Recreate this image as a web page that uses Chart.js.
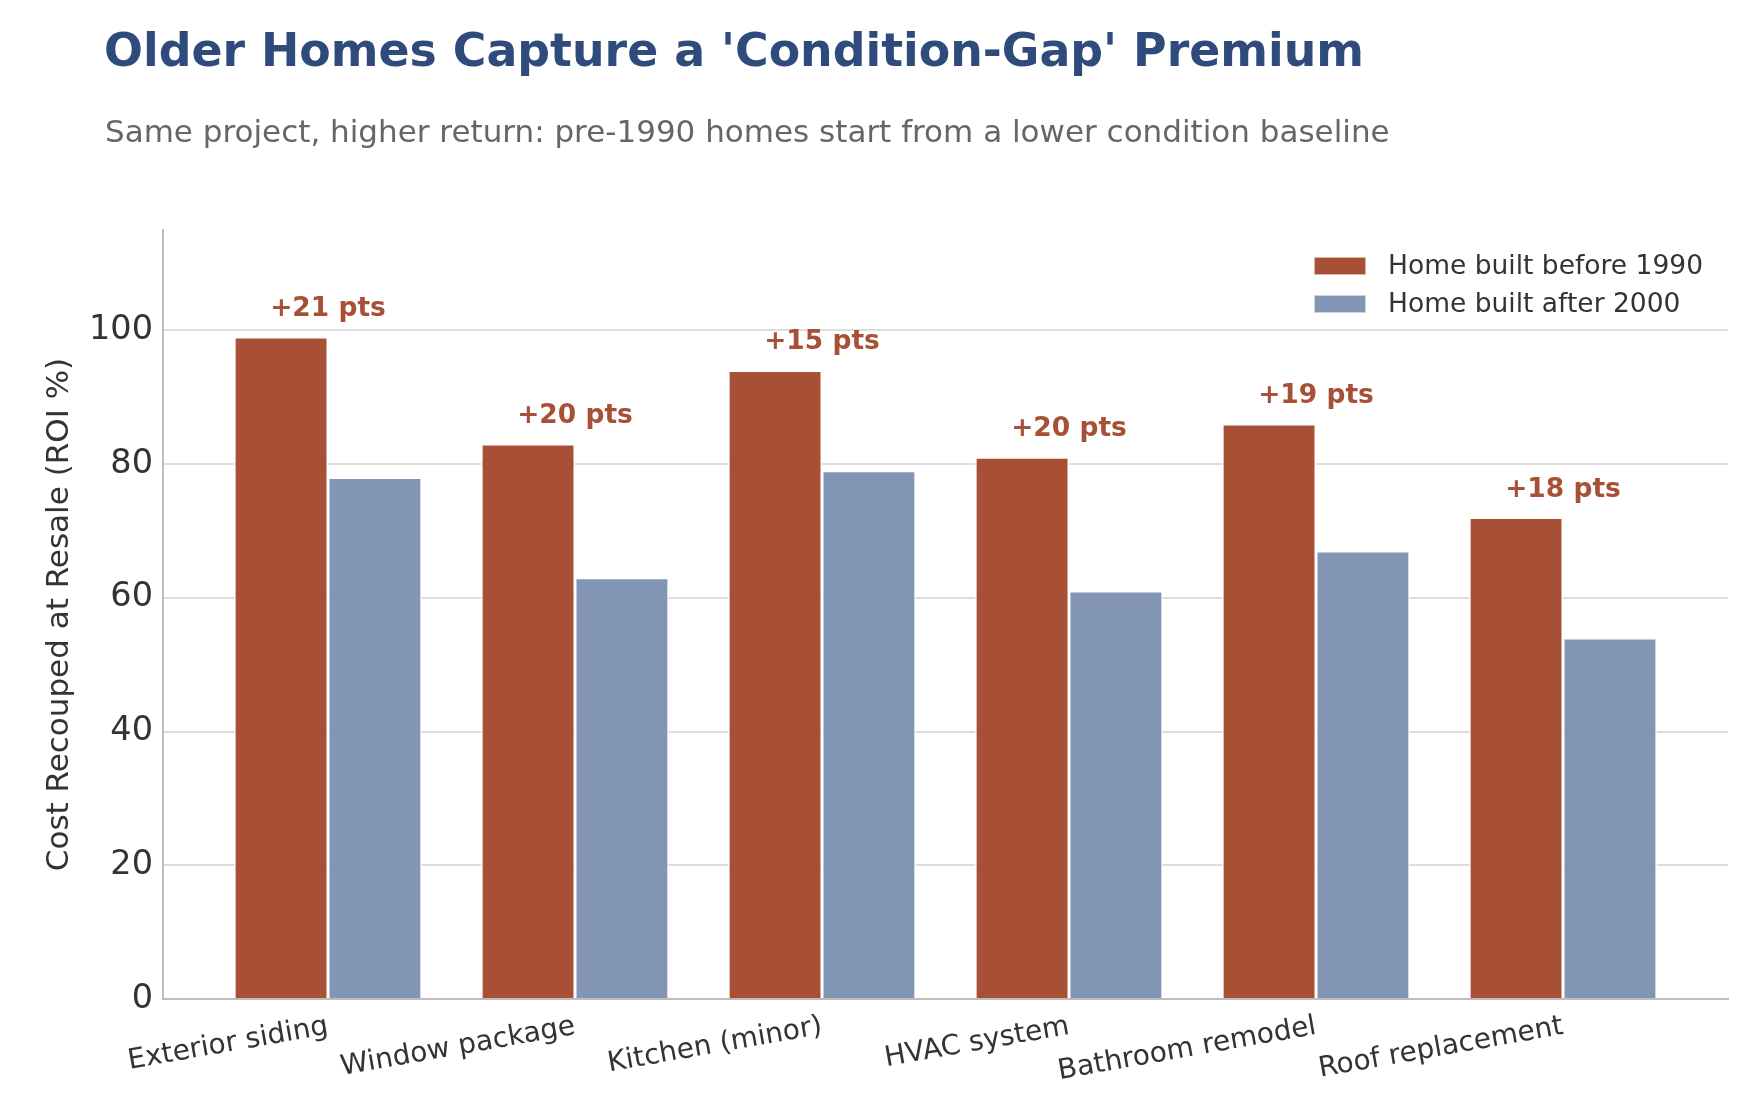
<!DOCTYPE html>
<html>
<head>
<meta charset="utf-8">
<script src="https://cdn.jsdelivr.net/npm/chart.js@4.4.1/dist/chart.umd.min.js"></script>
<style>
  html, body { margin: 0; padding: 0; background: #ffffff; }
  #wrap { position: relative; width: 1756px; height: 1114px; overflow: hidden; }
  #chart { position: absolute; left: 0; top: 0; }
  .title { position: absolute; left: 104px; top: 28px; margin: 0; white-space: nowrap;
           font-family: "DejaVu Sans", sans-serif; font-weight: bold; font-size: 45.8px; line-height: 1; color: #2F4B7C; }
  .subtitle { position: absolute; left: 105px; top: 116px; margin: 0; white-space: nowrap;
           font-family: "DejaVu Sans", sans-serif; font-weight: normal; font-size: 31px; line-height: 1; color: #666666; }
</style>
</head>
<body>
<div id="wrap">
  <canvas id="chart" width="1756" height="1114"></canvas>
  <h1 class="title" id="title"></h1>
  <p class="subtitle" id="subtitle"></p>
</div>
<script>
// ---- Data ----
const titleText = "Older Homes Capture a 'Condition-Gap' Premium";
const subtitleText = "Same project, higher return: pre-1990 homes start from a lower condition baseline";
const categories = ["Exterior siding", "Window package", "Kitchen (minor)", "HVAC system", "Bathroom remodel", "Roof replacement"];
const seriesNames = ["Home built before 1990", "Home built after 2000"];
const before1990 = [99, 83, 94, 81, 86, 72];
const after2000 = [78, 63, 79, 61, 67, 54];
const yTicks = [0, 20, 40, 60, 80, 100];
const yAxisTitle = "Cost Recouped at Resale (ROI %)";

// ---- Styles ----
const ORANGE = '#A85036';
const BLUE = '#8295B5';
const FONT = '"DejaVu Sans", sans-serif';

document.getElementById('title').textContent = titleText;
document.getElementById('subtitle').textContent = subtitleText;

const gapLabels = {
  id: 'gapLabels',
  afterDatasetsDraw(chart) {
    const ctx = chart.ctx;
    const m0 = chart.getDatasetMeta(0).data;
    const m1 = chart.getDatasetMeta(1).data;
    const yScale = chart.scales.y;
    ctx.save();
    ctx.font = 'bold 26.5px ' + FONT;
    ctx.fillStyle = ORANGE;
    ctx.textAlign = 'center';
    ctx.textBaseline = 'alphabetic';
    categories.forEach((c, i) => {
      const a = before1990[i], b = after2000[i];
      const x = (m0[i].x + m1[i].x) / 2;
      const y = yScale.getPixelForValue(Math.max(a, b)) - 21;
      ctx.fillText('+' + (a - b) + ' pts', x, y);
    });
    ctx.restore();
  }
};

const innerLegend = {
  id: 'innerLegend',
  afterDraw(chart) {
    const ctx = chart.ctx;
    const area = chart.chartArea;
    const px = area.right - 414;
    const rows = [area.top + 36, area.top + 74];
    ctx.save();
    chart.data.datasets.forEach((ds, i) => {
      const cy = rows[i];
      ctx.fillStyle = ds.backgroundColor;
      ctx.fillRect(px, cy - 9, 52, 18);
      ctx.strokeStyle = 'rgba(255,255,255,0.6)';
      ctx.lineWidth = 1;
      ctx.strokeRect(px + 0.5, cy - 8.5, 51, 17);
      ctx.fillStyle = '#333333';
      ctx.font = '26.5px ' + FONT;
      ctx.textAlign = 'left';
      ctx.textBaseline = 'middle';
      ctx.fillText(ds.label, px + 74, cy + 1);
    });
    ctx.restore();
  }
};

new Chart(document.getElementById('chart'), {
  type: 'bar',
  data: {
    datasets: [
      {
        label: seriesNames[0],
        data: before1990.map((v, i) => ({ x: i, y: v })),
        backgroundColor: ORANGE,
        borderColor: '#ffffff',
        borderWidth: 1.5,
        categoryPercentage: 0.76,
        barPercentage: 1.0
      },
      {
        label: seriesNames[1],
        data: after2000.map((v, i) => ({ x: i, y: v })),
        backgroundColor: BLUE,
        borderColor: '#ffffff',
        borderWidth: 1.5,
        categoryPercentage: 0.76,
        barPercentage: 1.0
      }
    ]
  },
  options: {
    responsive: false,
    animation: false,
    devicePixelRatio: 1,
    layout: { padding: { top: 230, right: 28, bottom: 0, left: 0 } },
    plugins: {
      legend: { display: false },
      tooltip: { enabled: false },
      title: { display: false }
    },
    scales: {
      x: {
        type: 'linear',
        min: -0.668,
        max: 5.668,
        offset: false,
        grid: { display: false, offset: false },
        border: { display: true, color: '#bdbdbd', width: 2 },
        afterBuildTicks(scale) { scale.ticks = categories.map((c, i) => ({ value: i })); },
        afterFit(scale) { scale.height = 115; },
        ticks: {
          autoSkip: false,
          minRotation: 10,
          maxRotation: 10,
          padding: 3,
          color: '#333333',
          font: { family: FONT, size: 28 },
          callback: (v) => categories[v]
        }
      },
      y: {
        type: 'linear',
        min: 0,
        max: 115,
        afterBuildTicks(scale) { scale.ticks = yTicks.map(v => ({ value: v })); },
        afterFit(scale) { scale.width = 163; },
        grid: { color: '#dddddd', lineWidth: 2, drawTicks: false },
        border: { display: true, color: '#bdbdbd', width: 2 },
        ticks: {
          padding: 10,
          color: '#333333',
          font: { family: FONT, size: 33.5 }
        },
        title: {
          display: true,
          text: yAxisTitle,
          color: '#333333',
          font: { family: FONT, size: 31 },
          padding: { top: 41, bottom: 0 }
        }
      }
    }
  },
  plugins: [gapLabels, innerLegend]
});
</script>
</body>
</html>
